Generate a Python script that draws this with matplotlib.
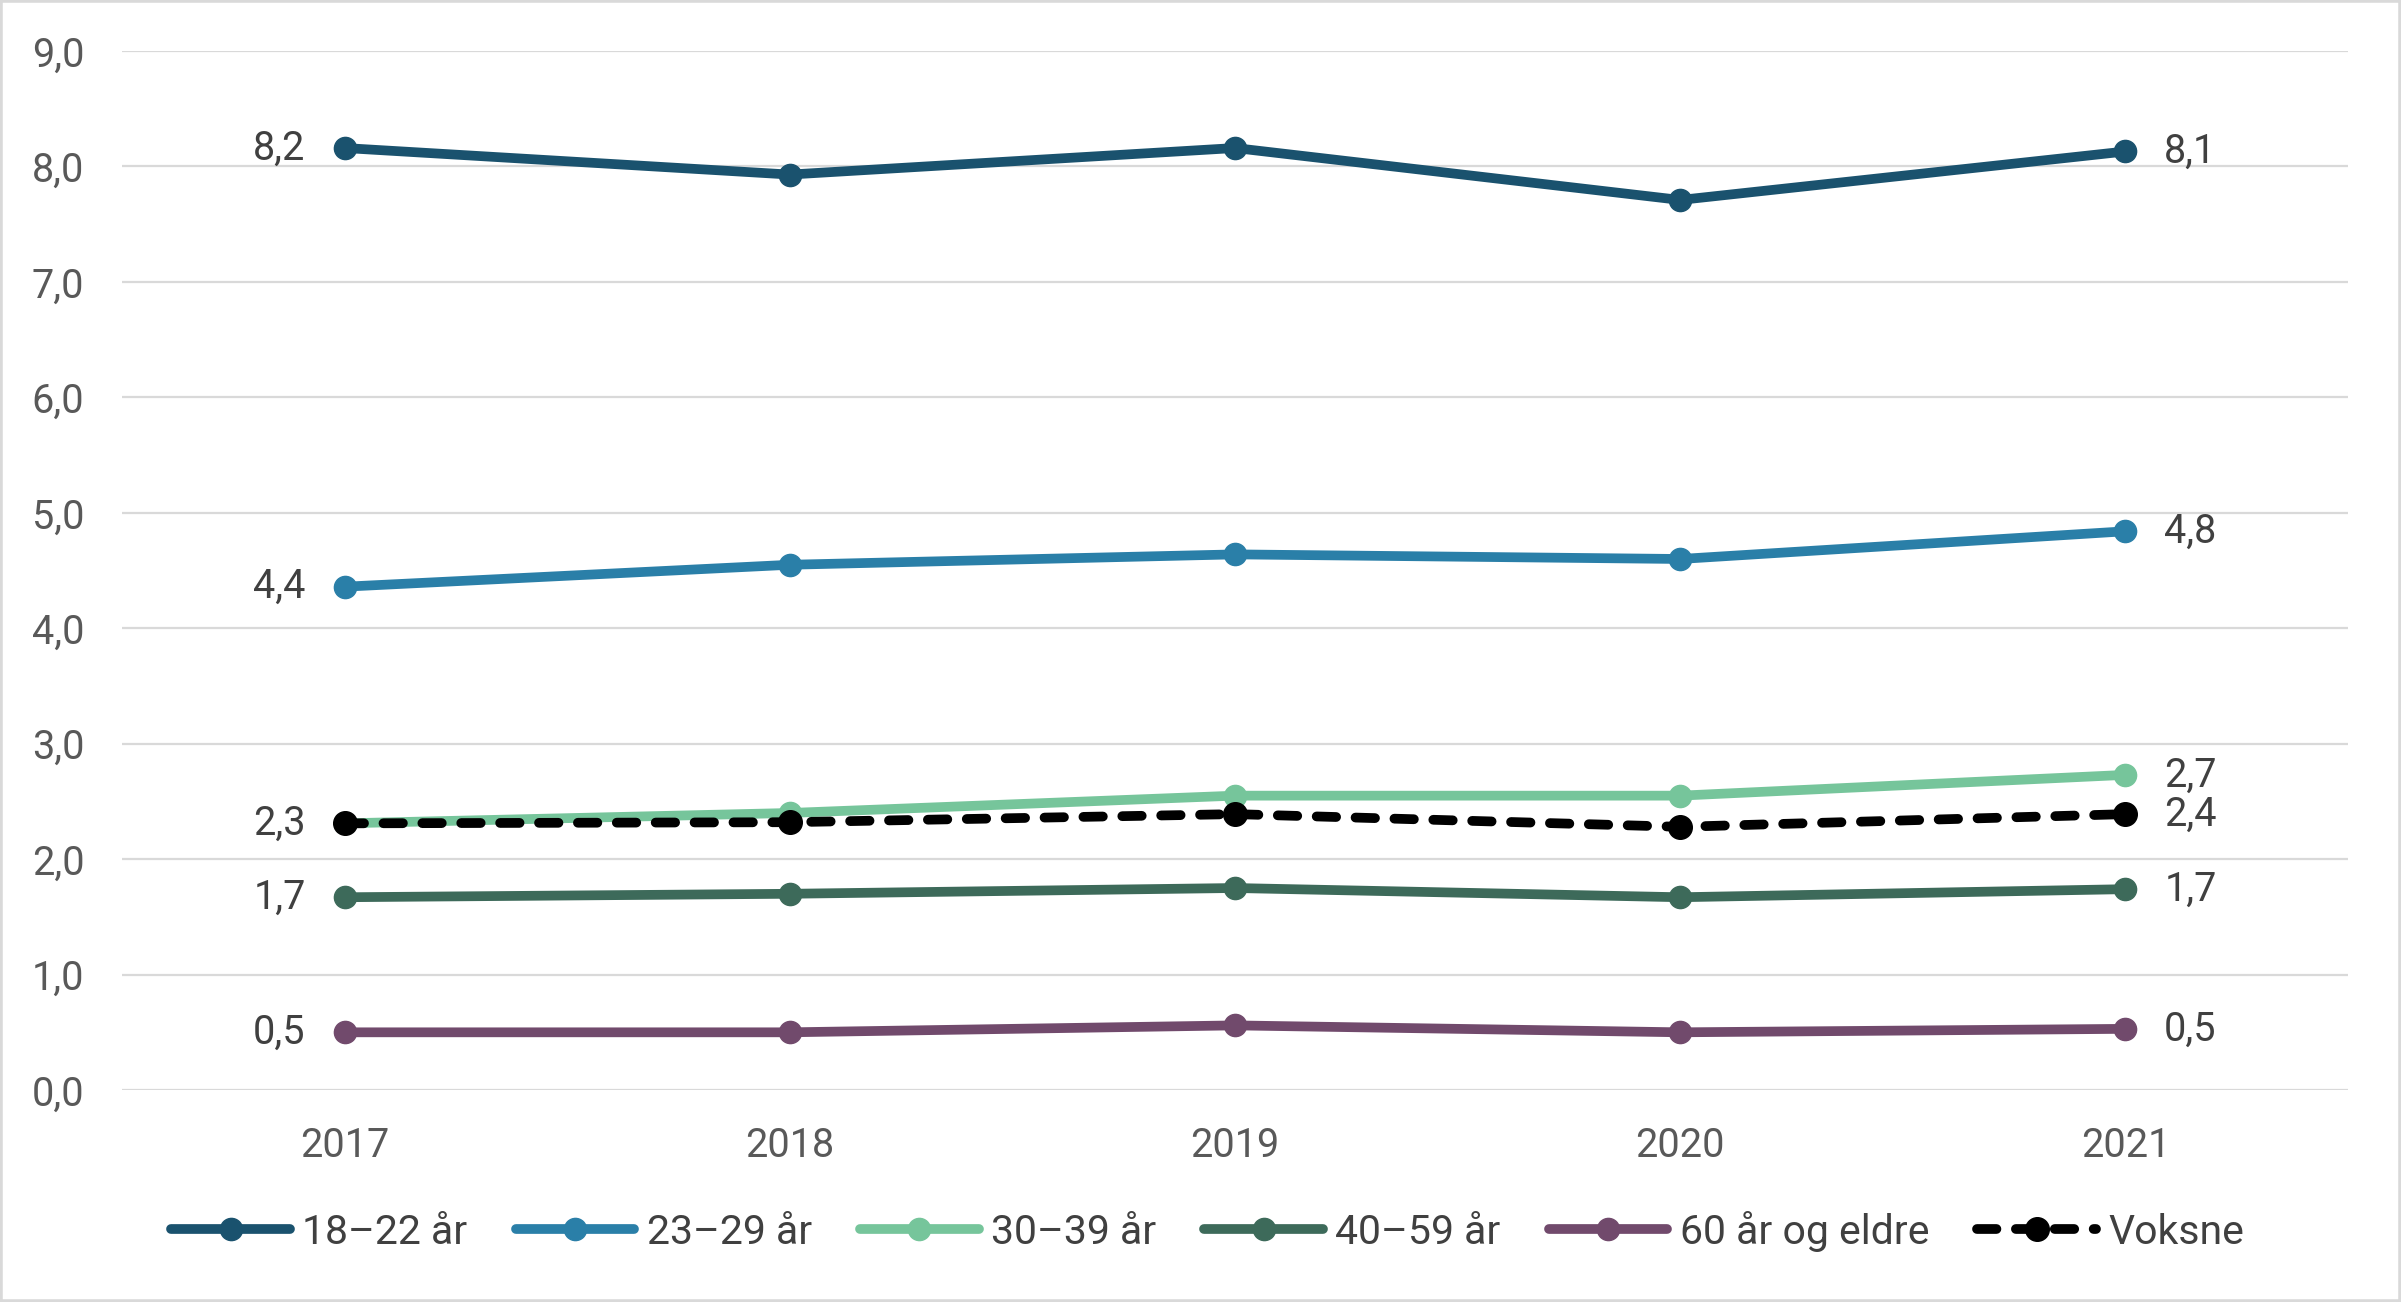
import matplotlib
matplotlib.use('Agg')
import matplotlib.pyplot as plt
from matplotlib.patches import Rectangle

plt.rcParams['font.family'] = ['Roboto', 'DejaVu Sans']

# ── Data ─────────────────────────────────────────────────────────────
years = ['2017', '2018', '2019', '2020', '2021']
labels = ['18\u201322 år', '23\u201329 år', '30\u201339 år', '40\u201359 år', '60 år og eldre', 'Voksne']
v_18_22 = [8.16, 7.93, 8.16, 7.71, 8.13]
v_23_29 = [4.36, 4.55, 4.64, 4.60, 4.84]
v_30_39 = [2.31, 2.40, 2.55, 2.55, 2.73]
v_40_59 = [1.67, 1.70, 1.75, 1.67, 1.74]
v_60 = [0.50, 0.50, 0.56, 0.50, 0.53]
v_voksne = [2.31, 2.32, 2.39, 2.28, 2.39]
# which end points get a value label
show_left = [True, True, False, True, True, True]
show_right = [True, True, True, True, True, True]

series = [v_18_22, v_23_29, v_30_39, v_40_59, v_60, v_voksne]
colors = ['#1a526e', '#2a7fa8', '#76c59b', '#3d6a5a', '#714a6c', '#000000']

fig = plt.figure(figsize=(24.01, 13.02), dpi=100)
ax = fig.add_axes([0.0508, 0.1628, 0.9271, 0.798])

x = list(range(len(years)))
for vals, lab, col in zip(series, labels, colors):
    if lab == 'Voksne':
        ax.plot(x, vals, color=col, lw=7, ls=(0, (2, 2)), dash_capstyle='round',
                marker='o', ms=17, label=lab, zorder=4)
    else:
        ax.plot(x, vals, color=col, lw=7, solid_capstyle='round',
                marker='o', ms=16, label=lab, zorder=3)

def fmt(v):
    return f'{v:.1f}'.replace('.', ',')

for vals, l, r in zip(series, show_left, show_right):
    if l:
        ax.annotate(fmt(vals[0]), (x[0], vals[0]), xytext=(-28, 0), textcoords='offset points',
                    ha='right', va='center', fontsize=28.5, color='#404040')
    if r:
        ax.annotate(fmt(vals[-1]), (x[-1], vals[-1]), xytext=(28, 0), textcoords='offset points',
                    ha='left', va='center', fontsize=28.5, color='#404040')

ax.set_xlim(-0.5, 4.5)
ax.set_ylim(0, 9)
ax.set_xticks(x)
ax.set_xticklabels(years)
yt = list(range(10))
ax.set_yticks(yt)
ax.set_yticklabels([f'{t},0' for t in yt])
ax.tick_params(axis='both', length=0, labelsize=28.5, labelcolor='#595959')
ax.tick_params(axis='y', pad=27)
ax.tick_params(axis='x', pad=26)
ax.grid(axis='y', color='#d9d9d9', lw=1.6)
ax.set_axisbelow(True)
for s in ax.spines.values():
    s.set_visible(False)

leg = fig.legend(loc='center', bbox_to_anchor=(0.503, 1 - 1231 / 1302), ncol=6,
                 frameon=False, fontsize=29.5, handlelength=2.9, handletextpad=0.3,
                 columnspacing=1.17, labelcolor='#404040')

fig.patches.append(Rectangle((0, 0), 1, 1, transform=fig.transFigure, fill=False,
                             edgecolor='#d9d9d9', lw=4))

plt.savefig('out.png', dpi=100)
